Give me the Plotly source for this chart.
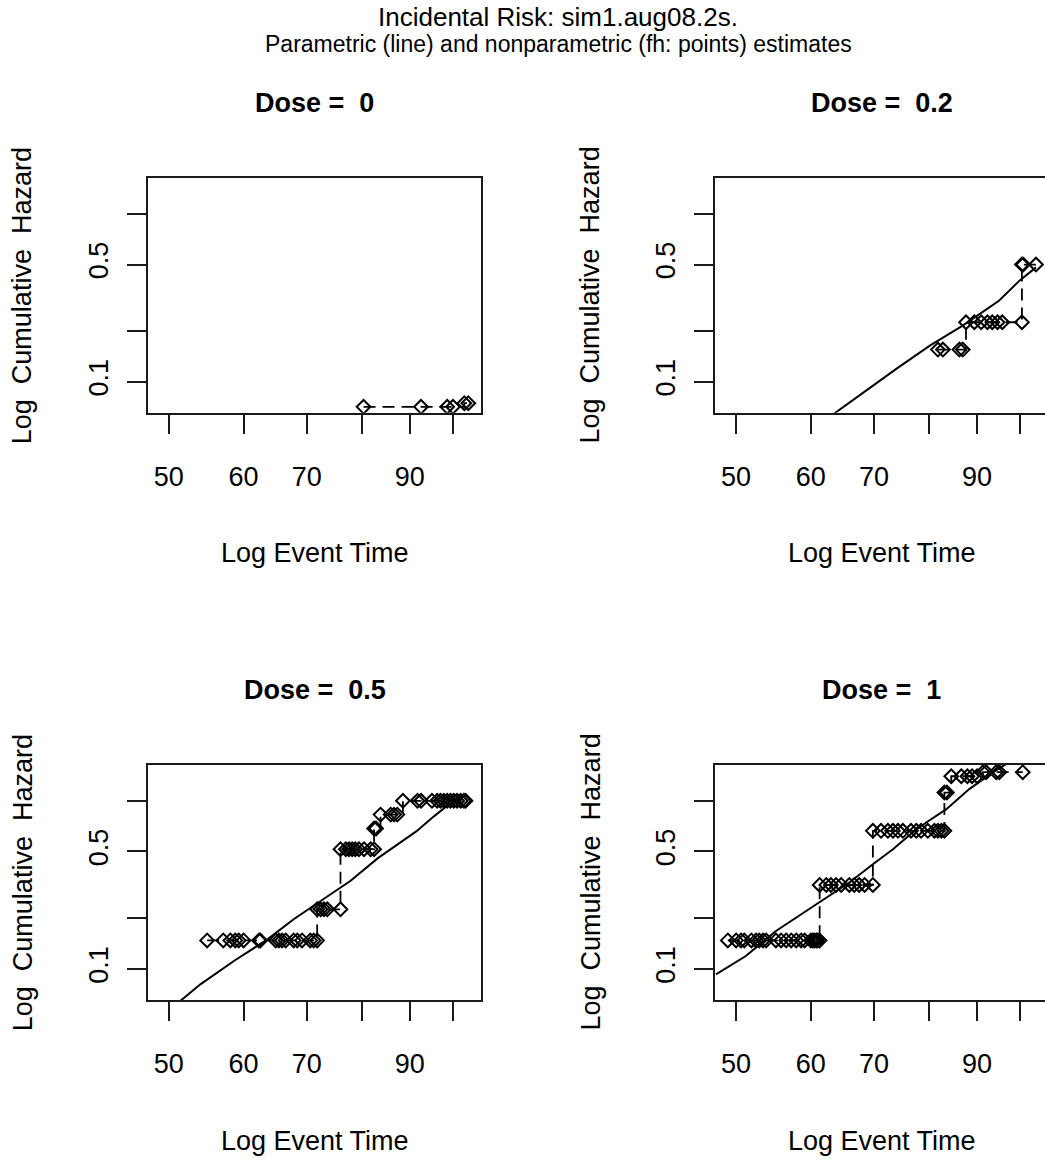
import plotly.graph_objects as go

# ------------------------------------------------------------------ data
dose_labels = ["0", "0.2", "0.5", "1"]

x_tick_vals = [50, 60, 70, 80, 90, 100]
x_tick_text = ["50", "60", "70", "", "90", ""]
y_tick_vals = [0.1, 0.2, 0.5, 1.0]
y_tick_text = ["0.1", "", "0.5", ""]

# Dose = 0  (parametric curve lies below the plotted range)
param_time_d0 = []
param_haz_d0 = []
np_time_d0 = [80.4, 92.5, 98.6, 100.0, 102.8, 103.8]
np_haz_d0 = [0.071, 0.071, 0.071, 0.071, 0.0746, 0.0746]

# Dose = 0.2
param_time_d02 = [63.3, 67.5, 73.9, 80.2, 86.9, 95.0, 99.8, 103.9]
param_haz_d02 = [0.0638, 0.0829, 0.1195, 0.1644, 0.2163, 0.305, 0.401, 0.481]
np_time_d02 = [81.8, 82.8, 86.2, 86.9,
               87.6, 89.4, 90.9, 92.3, 93.4, 94.6, 95.7, 100.4,
               100.4, 100.7, 103.9]
np_haz_d02 = [0.1556, 0.1556, 0.1556, 0.1556,
              0.2265, 0.2265, 0.2265, 0.2265, 0.2265, 0.2265, 0.2265, 0.2265,
              0.5, 0.5, 0.5]

# Dose = 0.5
param_time_d05 = [51.3, 54.0, 58.6, 63.6, 67.8, 74.8, 77.9, 83.2, 88.0, 91.5, 95.6, 98.6]
param_haz_d05 = [0.0639, 0.0811, 0.1116, 0.1502, 0.1976, 0.285, 0.335, 0.455,
                 0.5654, 0.66, 0.814, 0.934]
np_time_d05 = [54.9, 57.1, 58.1, 58.8, 59.3, 60.0, 62.3, 62.5, 64.9, 65.4, 65.9,
               66.5, 67.8, 68.4, 69.2, 70.6, 71.2, 71.8,
               71.8, 72.4, 73.0, 73.6, 76.0,
               76.0, 77.0, 77.6, 78.2, 78.8, 79.5, 80.5, 81.8, 82.5,
               82.5, 82.9,
               83.8, 85.9, 86.6, 87.3,
               88.5, 91.7, 92.5, 95.0, 96.2, 97.0, 97.8, 98.6, 99.4, 100.2,
               101.0, 101.9, 102.7, 103.1]
np_haz_d05 = [0.148] * 18 + [0.2266] * 5 + [0.516] * 9 + [0.685] * 2 + \
             [0.828] * 4 + [1.0] * 14

# Dose = 1
param_time_d1 = [47.6, 51.2, 55.1, 61.3, 65.9, 69.8, 73.3, 76.9, 79.5, 83.5,
                 88.3, 93.5, 96.6]
param_haz_d1 = [0.093, 0.1195, 0.1684, 0.2485, 0.3267, 0.420, 0.5158, 0.6486,
                0.7438, 0.8926, 1.174, 1.476, 1.654]
np_time_d1 = [49.0, 50.0, 50.6, 51.0, 51.9, 52.5, 52.9, 53.4, 53.8, 55.1, 55.8,
              56.5, 57.2, 57.9, 58.6, 59.1, 60.0, 60.3, 60.5, 60.8, 61.0, 61.3,
              61.3, 62.3, 63.0, 63.8, 64.6, 65.9, 66.7, 67.5, 68.4, 69.8,
              69.8, 71.2, 72.4, 73.3, 74.2, 75.1, 76.6, 77.6, 78.5, 79.8, 81.1,
              81.8, 82.5, 83.1,
              83.1, 83.6,
              84.5, 86.6, 87.9, 88.9, 90.0,
              91.3, 92.0, 94.3, 95.0, 100.6]
np_haz_d1 = [0.148] * 22 + [0.316] * 10 + [0.663] * 14 + [1.12] * 2 + \
            [1.40] * 5 + [1.48] * 5

panel_data = [
    (param_time_d0, param_haz_d0, np_time_d0, np_haz_d0),
    (param_time_d02, param_haz_d02, np_time_d02, np_haz_d02),
    (param_time_d05, param_haz_d05, np_time_d05, np_haz_d05),
    (param_time_d1, param_haz_d1, np_time_d1, np_haz_d1),
]

main_title = "Incidental Risk: sim1.aug08.2s."
sub_title = "Parametric (line) and nonparametric (fh: points) estimates"
x_title = "Log Event Time"
y_title = "Log  Cumulative  Hazard"

# ------------------------------------------------------------------ layout
W, H = 1045, 1160
FONT = "Liberation Sans, Arial, Helvetica, sans-serif"
INK = "#1a1a1a"
PX_PER_DECADE_X = 944.0
X_LEFT_LOG = 1.6766
Y_RANGE = [-1.184, 0.213]

# plot boxes in pixels: left, right, top, bottom (right panels are cut by the page edge)
boxes = [
    (147.7, 481.0, 178.3, 412.7),
    (715.0, 1045.0, 178.3, 412.7),
    (147.7, 481.0, 765.0, 1000.0),
    (715.0, 1045.0, 765.0, 1000.0),
]
# centres of the (uncut) R plot regions
centres_x = [314.5, 881.5, 314.5, 881.5]

fig = go.Figure()
layout = dict(
    width=W, height=H,
    margin=dict(l=0, r=0, t=0, b=0),
    paper_bgcolor="white", plot_bgcolor="white",
    showlegend=False,
    font=dict(family=FONT, color="black"),
)

annotations = []
for i, (box, (pt, ph, nt, nh)) in enumerate(zip(boxes, panel_data)):
    n = i + 1
    sx = "" if n == 1 else str(n)
    l, r, t, b = box
    left_col = (i % 2 == 0)
    layout["xaxis" + sx] = dict(
        domain=[l / W, r / W], anchor="y" + sx, type="log",
        range=[X_LEFT_LOG, X_LEFT_LOG + (r - l) / PX_PER_DECADE_X],
        tickmode="array", tickvals=x_tick_vals, ticktext=x_tick_text,
        ticks="outside", ticklen=19, tickwidth=2, tickcolor=INK,
        showline=True, linewidth=2, linecolor=INK, mirror=True,
        showgrid=False, zeroline=False,
        tickfont=dict(family=FONT, size=27, color="black"),
        ticklabelstandoff=20,
    )
    layout["yaxis" + sx] = dict(
        domain=[1 - b / H, 1 - t / H], anchor="x" + sx, type="log",
        range=Y_RANGE,
        tickmode="array", tickvals=y_tick_vals, ticktext=y_tick_text,
        ticks="outside", ticklen=19, tickwidth=2, tickcolor=INK,
        showline=True, linewidth=2, linecolor=INK, mirror=left_col,
        showgrid=False, zeroline=False, tickangle=-90,
        tickfont=dict(family=FONT, size=27, color="black"),
        ticklabelstandoff=8,
    )

    if len(pt) > 0:
        fig.add_trace(go.Scatter(
            x=pt, y=ph, mode="lines", xaxis="x" + sx, yaxis="y" + sx,
            line=dict(color="black", width=2), hoverinfo="skip"))
    fig.add_trace(go.Scatter(
        x=nt, y=nh, mode="lines+markers", xaxis="x" + sx, yaxis="y" + sx,
        line=dict(color="black", width=1.8, shape="hv", dash="12px,7px"),
        marker=dict(symbol="diamond-open", size=10.5, color="black",
                    line=dict(width=2, color="black"))))

    cx = centres_x[i]
    cy = (t + b) / 2
    # panel title
    annotations.append(dict(
        text="<b>Dose =  " + dose_labels[i] + "</b>", xref="paper", yref="paper",
        x=cx / W, y=1 - (t - 75) / H, xanchor="center", yanchor="middle",
        showarrow=False, font=dict(family=FONT, size=27, color="black")))
    # x axis title
    annotations.append(dict(
        text=x_title, xref="paper", yref="paper",
        x=cx / W, y=1 - (b + 140.5) / H, xanchor="center", yanchor="middle",
        showarrow=False, font=dict(family=FONT, size=27, color="black")))
    # y axis title
    annotations.append(dict(
        text=y_title, xref="paper", yref="paper", textangle=-90,
        x=(l - 125) / W, y=1 - cy / H, xanchor="center", yanchor="middle",
        showarrow=False, font=dict(family=FONT, size=27, color="black")))

annotations.append(dict(
    text=main_title, xref="paper", yref="paper", x=558 / W, y=1 - 16.5 / H,
    xanchor="center", yanchor="middle", showarrow=False,
    font=dict(family=FONT, size=26, color="black")))
annotations.append(dict(
    text=sub_title, xref="paper", yref="paper", x=558 / W, y=1 - 44.5 / H,
    xanchor="center", yanchor="middle", showarrow=False,
    font=dict(family=FONT, size=23, color="black")))

layout["annotations"] = annotations
fig.update_layout(**layout)
fig.write_html("out.html")
